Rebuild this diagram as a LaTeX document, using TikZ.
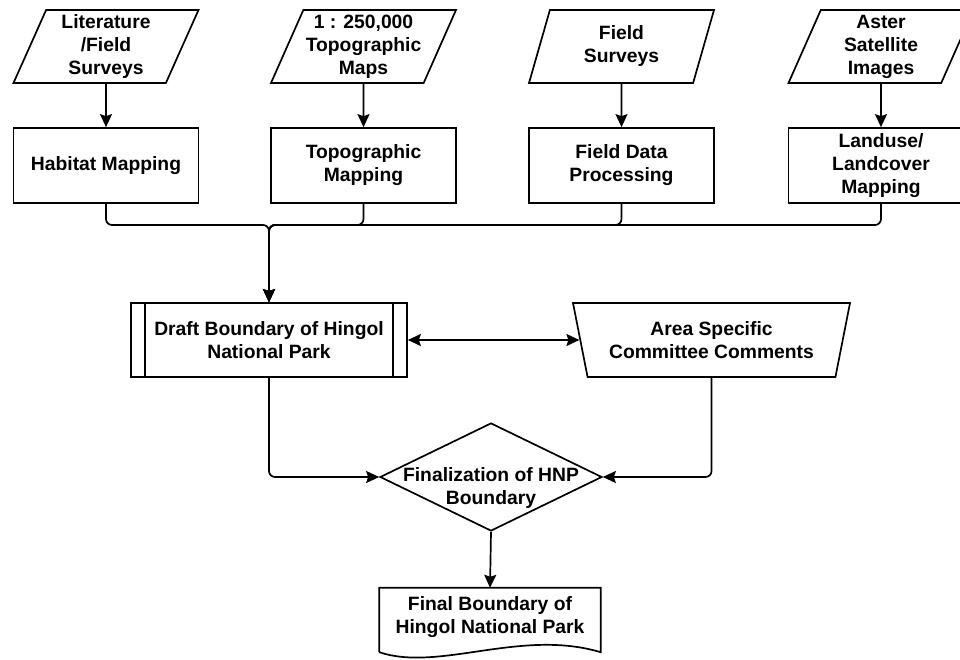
\documentclass[tikz,border=0pt]{standalone}
\usepackage{fontspec}
\setmainfont{Liberation Sans}
\usetikzlibrary{arrows.meta}
\usetikzlibrary{shapes.geometric}
\usetikzlibrary{calc}

\begin{document}
\begin{tikzpicture}[x=1pt, y=-1pt,
  font=\fontsize{19.3}{23}\selectfont\bfseries,
  every node/.style={align=center, inner sep=0pt},
  proc/.style={draw, line width=1.7pt, minimum width=185pt, minimum height=75pt},
  dataio/.style={draw, line width=1.7pt, trapezium, trapezium left angle=63, trapezium right angle=117,
    trapezium stretches body, minimum width=185pt, minimum height=73pt},
  flow/.style={line width=1.7pt, -{Stealth[length=13pt, width=12pt, inset=2pt]}},
  bothflow/.style={line width=1.7pt, {Stealth[length=13pt, width=12pt, inset=2pt]}-{Stealth[length=13pt, width=12pt, inset=2pt]}}]
\clip (0,0) rectangle (960,660);

\node[dataio] (lit)   at (106,46.5)   {Literature\\/Field\\Surveys};
\node[dataio] (topo)  at (363.5,46.5) {1 : 250,000\\Topographic\\Maps};
\node[dataio] (fsurv) at (621.5,46.5) {Field\\Surveys};
\node[dataio] (aster) at (881,46.5)   {Aster\\Satellite\\Images};

\node[proc] (hab)  at (106,165.5)   {Habitat Mapping};
\node[proc] (tmap) at (363.5,165.5) {Topographic\\Mapping};
\node[proc] (fdp)  at (621.5,165.5) {Field Data\\Processing};
\node[proc] (luse) at (881,165.5)   {Landuse/\\Landcover\\Mapping};

\foreach \a/\b in {lit/hab, topo/tmap, fsurv/fdp, aster/luse}
  \draw[flow] (\a) -- (\b);

\node[draw, line width=1.7pt, minimum width=276pt, minimum height=74pt] (draft) at (269,340)
  {Draft Boundary of Hingol\\National Park};
\draw[line width=1.7pt] ([xshift=15pt]draft.north west) -- ([xshift=15pt]draft.south west);
\draw[line width=1.7pt] ([xshift=-15pt]draft.north east) -- ([xshift=-15pt]draft.south east);

\node[draw, line width=1.7pt, trapezium, trapezium left angle=111.4, trapezium right angle=111.4,
  trapezium stretches body, minimum width=277pt, minimum height=74pt] (area) at (711.5,340)
  {Area Specific\\Committee Comments};

\coordinate (bus) at (269,225);
\foreach \b in {hab, tmap, fdp, luse}
  \draw[flow, rounded corners=6pt] (\b.south) |- (bus) -- (draft.north);

\draw[bothflow] (draft.east) -- (area.west);

\node[draw, diamond, line width=1.7pt, minimum width=222pt, minimum height=108pt] (fin) at (491,477) {};
\node (fintxt) at (491,488) {Finalization of HNP\\Boundary};

\draw[flow, rounded corners=6pt] (draft.south) |- (fin.west);
\draw[flow, rounded corners=6pt] (area.south) |- (fin.east);

\node[minimum width=221pt, minimum height=58pt] (final) at (490,617)
  {Final Boundary of\\Hingol National Park};
\draw[line width=1.7pt] ($(final.south west)+(0,6)$) -- (final.north west) -- (final.north east)
  -- ($(final.south east)+(0,6)$) .. controls +(-80,-24) and +(60,20) .. ($(final.south west)+(0,6)$);

\draw[flow] (fin.south) -- (final.north);
\end{tikzpicture}
\end{document}
